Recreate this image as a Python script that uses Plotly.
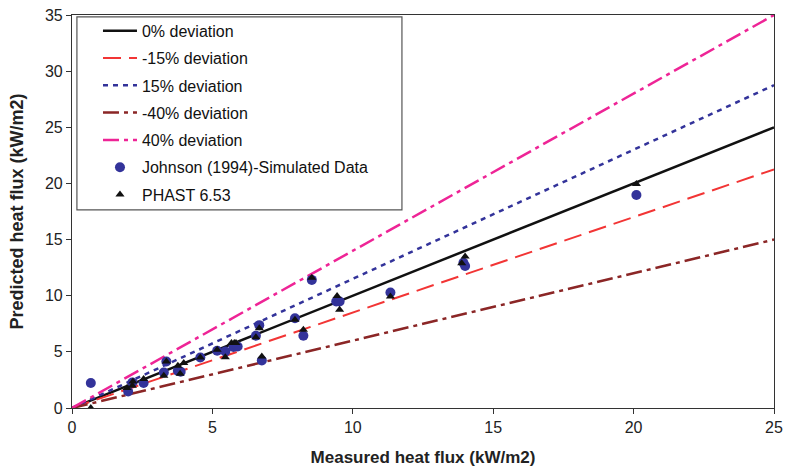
import plotly.graph_objects as go

# Deviation lines (slope factors)
line_names = ["0% deviation", "-15% deviation", "15% deviation", "-40% deviation", "40% deviation"]
line_factors = [1.0, 0.85, 1.15, 0.60, 1.40]
line_x = [0, 25]

# Johnson (1994) simulated data
johnson_x = [0.67, 2.0, 2.15, 2.55, 3.27, 3.36, 3.77, 3.87, 4.57, 5.17, 5.46, 5.75, 5.9,
             6.55, 6.67, 6.76, 7.94, 8.24, 8.54, 9.41, 9.53, 11.34, 13.94, 14.0, 20.1]
johnson_y = [2.22, 1.47, 2.27, 2.22, 3.16, 4.14, 3.32, 3.23, 4.50, 5.10, 5.03, 5.43, 5.48,
             6.43, 7.38, 4.23, 8.0, 6.43, 11.41, 9.48, 9.48, 10.28, 12.94, 12.65, 18.97]

# PHAST 6.53
phast_x = [0.67, 1.96, 2.15, 2.17, 2.55, 3.27, 3.36, 3.77, 3.85, 3.98, 4.57, 5.17, 5.46,
           5.68, 5.78, 5.84, 6.55, 6.67, 6.76, 7.94, 8.24, 8.54, 9.44, 9.53, 11.34,
           14.0, 13.88, 20.1]
phast_y = [0.0, 1.78, 1.98, 2.36, 2.58, 2.88, 4.14, 3.76, 3.05, 4.0, 4.5, 5.19, 4.53,
           5.78, 5.78, 5.78, 6.31, 7.11, 4.58, 7.85, 6.97, 11.59, 9.98, 8.74, 9.92,
           13.49, 12.9, 19.96]

x_ticks = [0, 5, 10, 15, 20, 25]
y_ticks = [0, 5, 10, 15, 20, 25, 30, 35]

line_styles = [
    dict(color="#111111", width=2.5, dash="solid"),
    dict(color="#f23535", width=2, dash="18px,8px"),
    dict(color="#33339a", width=2.5, dash="5px,5px"),
    dict(color="#8b2626", width=2.5, dash="16px,5px,4px,5px"),
    dict(color="#ee2496", width=2.5, dash="16px,5px,4px,5px"),
]

fig = go.Figure()
for i, (name, f) in enumerate(zip(line_names, line_factors)):
    fig.add_trace(go.Scatter(
        x=line_x, y=[f * v for v in line_x], mode="lines", name=name,
        line=line_styles[i], legendgroup=f"g{i}"))

fig.add_trace(go.Scatter(
    x=johnson_x, y=johnson_y, mode="markers", name="Johnson (1994)-Simulated Data",
    marker=dict(symbol="circle", size=10, color="#33339a"), legendgroup="g5"))
fig.add_trace(go.Scatter(
    x=phast_x, y=phast_y, mode="markers", name="PHAST 6.53",
    marker=dict(symbol="triangle-up", size=8, color="#111111"), legendgroup="g6"))

font_main = "Liberation Sans, Arial, sans-serif"

# legend frame (paper coordinates)
fig.add_shape(type="rect", xref="paper", yref="paper",
              x0=0.007, x1=0.470, y0=0.504, y1=0.995,
              line=dict(color="#555555", width=1.2), fillcolor="rgba(0,0,0,0)",
              layer="below")

fig.update_layout(
    width=786, height=467,
    margin=dict(l=72, r=12, t=15, b=59),
    paper_bgcolor="white", plot_bgcolor="white",
    font=dict(family=font_main, size=16, color="#222222"),
    showlegend=True,
    legend=dict(
        x=0.037, y=1.003, xanchor="left", yanchor="top",
        bgcolor="rgba(0,0,0,0)", borderwidth=0,
        font=dict(family=font_main, size=16, color="#111111"),
        tracegroupgap=3.5, itemwidth=34,
    ),
    xaxis=dict(
        range=[0, 25], tickvals=x_ticks, ticks="outside", ticklen=5, tickcolor="#333",
        showline=True, linecolor="#333", linewidth=1.2, mirror=True, showgrid=False,
        zeroline=False, automargin=False,
        title=dict(text="<b>Measured heat flux (kW/m2)</b>", standoff=15,
                   font=dict(family=font_main, size=17)),
    ),
    yaxis=dict(
        range=[0, 35], tickvals=y_ticks, ticks="outside", ticklen=5, tickcolor="#333",
        showline=True, linecolor="#333", linewidth=1.2, mirror=True, showgrid=False,
        zeroline=False, automargin=False,
        title=dict(text="<b>Predicted heat flux (kW/m2)</b>", standoff=16,
                   font=dict(family=font_main, size=18)),
    ),
)

fig.write_html("out.html", config={"displayModeBar": False},
               post_script="document.body.style.margin='0';")
